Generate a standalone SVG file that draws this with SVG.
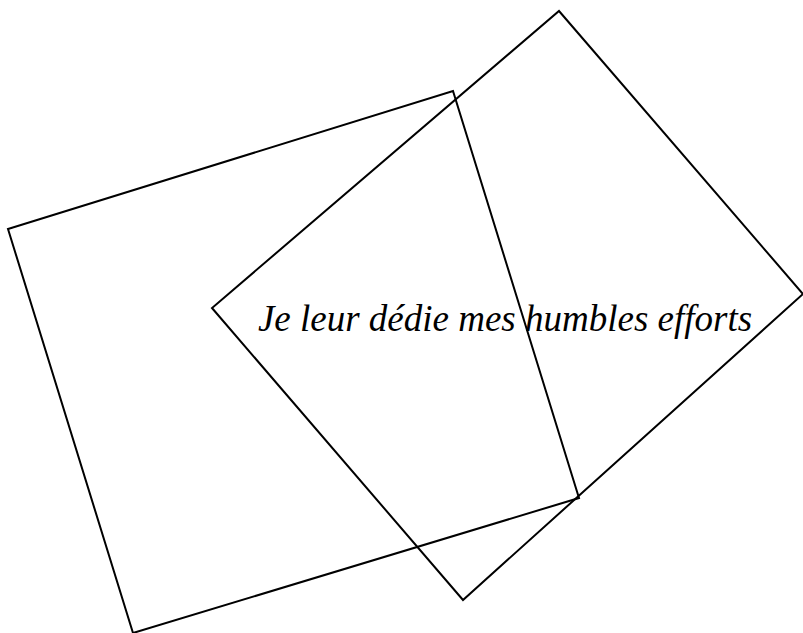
<svg xmlns="http://www.w3.org/2000/svg" width="803" height="633" viewBox="0 0 803 633">
<style>
.shape{fill:none;stroke:#000;stroke-width:2;stroke-linejoin:miter}
.lbl{font-family:"Liberation Serif","Times New Roman",serif;font-style:italic;font-size:37px;fill:#000}
</style>
<rect width="803" height="633" fill="#fff"/>
<g id="rect-a"><polygon class="shape" points="8,229 453,91 579,498 133,633"/></g>
<g id="rect-b"><polygon class="shape" points="559,11 803,294 463,600 212,308"/></g>
<g id="label"><text class="lbl" x="505" y="331" text-anchor="middle">Je leur dédie mes humbles efforts</text></g>
</svg>
